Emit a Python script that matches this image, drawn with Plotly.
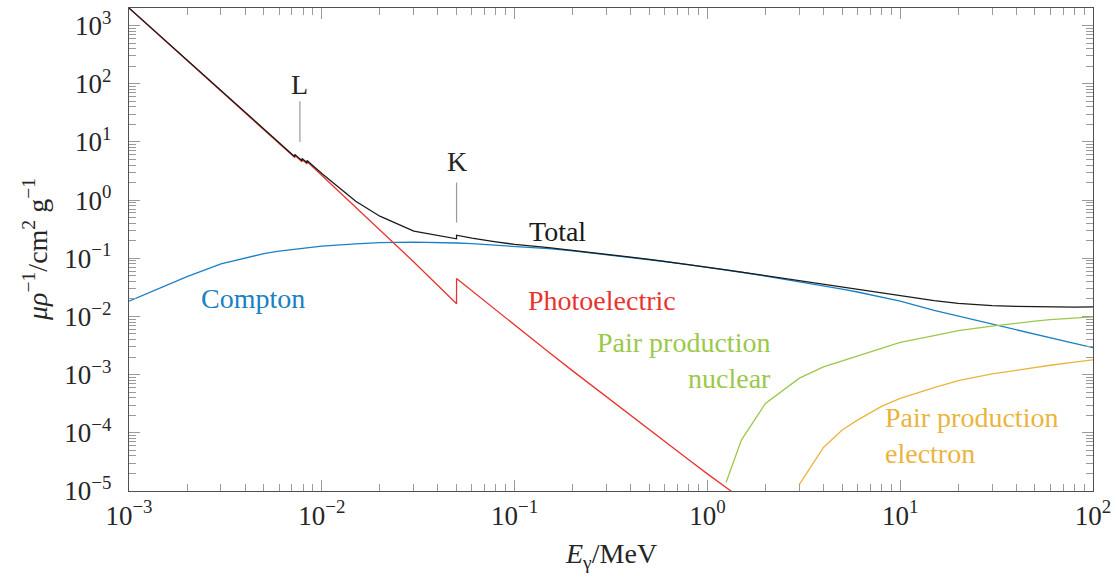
import math
import plotly.graph_objects as go

# Mass attenuation coefficients (cm^2/g) versus photon energy (MeV).
# Absorption edges appear as repeated energies.
total_energy = [0.001, 0.0015, 0.002, 0.003, 0.004, 0.005, 0.006, 0.007,
                0.00724, 0.00724, 0.0079, 0.0079, 0.00838, 0.00838, 0.01,
                0.015, 0.02, 0.03, 0.04, 0.05, 0.05, 0.06, 0.08, 0.1, 0.15,
                0.2, 0.3, 0.4, 0.5, 0.6, 0.8, 1, 1.25, 1.5, 2, 3, 4, 5, 6,
                8, 10, 15, 20, 30, 40, 50, 60, 80, 100]
total_mu = [2000, 597, 252, 75.1, 31.9, 16.5, 9.6, 6.1,
            5.55, 6.1, 4.72, 5.2, 4.38, 4.8, 2.85,
            0.957, 0.528, 0.292, 0.245, 0.216, 0.249, 0.222, 0.192, 0.173, 0.152,
            0.137, 0.117, 0.1045, 0.0955, 0.0884, 0.0778, 0.0702, 0.0633, 0.0579,
            0.0502, 0.0410, 0.0355, 0.0318, 0.0291, 0.0254, 0.0228, 0.0187,
            0.0168, 0.0153, 0.0149, 0.0147, 0.0146, 0.0145, 0.0146]

compton_energy = [0.001, 0.0015, 0.002, 0.003, 0.004, 0.005, 0.006, 0.008,
                  0.01, 0.015, 0.02, 0.03, 0.04, 0.05, 0.06, 0.08, 0.1, 0.15,
                  0.2, 0.3, 0.4, 0.5, 0.6, 0.8, 1, 1.25, 1.5, 2, 3, 4, 5, 6,
                  8, 10, 15, 20, 30, 40, 50, 60, 80, 100]
compton_mu = [0.0183, 0.0322, 0.0485, 0.0800, 0.102, 0.120, 0.133, 0.151,
              0.162, 0.177, 0.185, 0.189, 0.187, 0.183, 0.178, 0.168, 0.160,
              0.146, 0.134, 0.116, 0.104, 0.095, 0.088, 0.0775, 0.0700,
              0.0630, 0.0575, 0.0495, 0.0397, 0.0337, 0.0295, 0.0263, 0.0217,
              0.0183, 0.0127, 0.0101, 0.0073, 0.00585, 0.0049, 0.0043,
              0.00343, 0.0029]

photo_energy = [0.001, 0.0015, 0.002, 0.003, 0.004, 0.005, 0.006, 0.007,
                0.00724, 0.00724, 0.0079, 0.0079, 0.00838, 0.00838, 0.01,
                0.015, 0.02, 0.03, 0.04, 0.05, 0.05, 0.06, 0.08, 0.1, 0.15,
                0.2, 0.3, 0.4, 0.5, 0.6, 0.8, 1, 1.25, 1.5]
photo_mu = [1990, 596, 252, 74.9, 31.7, 16.3, 9.42, 5.94,
            5.37, 5.9, 4.54, 5.0, 4.19, 4.6, 2.66,
            0.759, 0.31, 0.0865, 0.034, 0.0165, 0.045, 0.0276, 0.0128, 0.0070,
            0.00244, 0.00116, 4.11e-4, 1.97e-4, 1.12e-4, 7.1e-5, 3.45e-5,
            1.97e-5, 1.15e-5, 7.4e-6]

pair_nuc_energy = [1.25, 1.5, 2, 3, 4, 5, 6, 8, 10, 15, 20, 30, 40, 50, 60,
                   80, 100]
pair_nuc_mu = [1.4e-5, 7.5e-5, 3.2e-4, 8.7e-4, 1.36e-3, 1.72e-3, 2.1e-3,
               2.77e-3, 3.57e-3, 4.7e-3, 5.7e-3, 6.8e-3, 7.7e-3, 8.3e-3,
               8.8e-3, 9.4e-3, 9.8e-3]

pair_el_energy = [3, 4, 5, 6, 8, 10, 15, 20, 30, 40, 50, 60, 80, 100]
pair_el_mu = [1.3e-5, 5.6e-5, 1.12e-4, 1.65e-4, 2.85e-4, 3.9e-4, 6.0e-4,
              7.9e-4, 1.03e-3, 1.2e-3, 1.34e-3, 1.45e-3, 1.64e-3, 1.8e-3]

x_tick_exp = [-3, -2, -1, 0, 1, 2]
y_tick_exp = [-5, -4, -3, -2, -1, 0, 1, 2, 3]

# edge markers: label, energy, line bottom/top, label height
edge_marks = [("L", 0.0077, 10, 50, 97), ("K", 0.05, 0.41, 2.0, 4.6)]

BLACK = "#1a1a1a"
BLUE = "#1a80c4"
RED = "#e8342e"
GREEN = "#9cc84a"
ORANGE = "#ebb43e"
TICK = "#9a9a9a"
TEXT = "#262626"
FONT = "Liberation Serif, Times New Roman, serif"

W, H = 1117, 578
ML, MR, MT, MB = 129, 24, 8, 87
PW, PH = W - ML - MR, H - MT - MB


def sup_label(e):
    s = str(e).replace("-", "\u2212")
    return f"10<sup>{s}</sup>"


def minor_vals(lo, hi):
    vals = []
    for p in range(lo, hi):
        for k in range(2, 10):
            vals.append(k * 10.0 ** p)
    return vals


def px(xp, yp):
    """pixel position -> paper coordinates"""
    return (xp - ML) / PW, (H - MB - yp) / PH


fig = go.Figure()
line_w = 1.3
fig.add_trace(go.Scatter(x=compton_energy, y=compton_mu, mode="lines",
                         line=dict(color=BLUE, width=line_w)))
fig.add_trace(go.Scatter(x=photo_energy, y=photo_mu, mode="lines",
                         line=dict(color=RED, width=line_w)))
fig.add_trace(go.Scatter(x=pair_nuc_energy, y=pair_nuc_mu, mode="lines",
                         line=dict(color=GREEN, width=line_w)))
fig.add_trace(go.Scatter(x=pair_el_energy, y=pair_el_mu, mode="lines",
                         line=dict(color=ORANGE, width=line_w)))
fig.add_trace(go.Scatter(x=total_energy, y=total_mu, mode="lines",
                         line=dict(color=BLACK, width=line_w)))

axis_common = dict(
    type="log", ticks="inside", ticklen=11, tickwidth=1.2, tickcolor=TICK,
    showline=True, linecolor="#505050", linewidth=1.4, mirror="allticks",
    showgrid=False, zeroline=False,
    tickfont=dict(family=FONT, size=27, color=TEXT),
)

fig.update_xaxes(
    **axis_common, range=[-3, 2],
    tickvals=[10.0 ** e for e in x_tick_exp],
    ticktext=[sup_label(e) for e in x_tick_exp],
    minor=dict(tickvals=minor_vals(-3, 2), ticks="inside", ticklen=7,
               tickwidth=1, tickcolor=TICK, showgrid=False),
)
fig.update_yaxes(
    **axis_common, range=[-5, 3.301],
    tickvals=[10.0 ** e for e in y_tick_exp],
    ticktext=[sup_label(e) for e in y_tick_exp],
    minor=dict(tickvals=minor_vals(-5, 4), ticks="inside", ticklen=7,
               tickwidth=1, tickcolor=TICK, showgrid=False),
    ticklabelstandoff=11,
)

for name, e, y0, y1, ylab in edge_marks:
    fig.add_shape(type="line", xref="x", yref="y", x0=e, x1=e, y0=y0, y1=y1,
                  line=dict(color=TICK, width=1.2))
    fig.add_annotation(x=math.log10(e), y=math.log10(ylab), xref="x", yref="y",
                       text=name, showarrow=False,
                       xanchor="center", yanchor="middle",
                       font=dict(family=FONT, size=28, color=TEXT))

labels = [
    ("Total", 557, 231, "center", BLACK),
    ("Compton", 253, 298, "center", BLUE),
    ("Photoelectric", 602, 300, "center", RED),
    ("Pair production<br>nuclear", 773, 360, "right", GREEN),
    ("Pair production<br>electron", 883, 435, "left", ORANGE),
]
for text, lx, ly, anchor, col in labels:
    xp, yp = px(lx, ly)
    fig.add_annotation(x=xp, y=yp, xref="paper", yref="paper", text=text,
                       showarrow=False, xanchor=anchor, yanchor="middle",
                       align=anchor,
                       font=dict(family=FONT, size=28, color=col))

# axis titles
xp, yp = px(611, 555)
fig.add_annotation(x=xp, y=yp, xref="paper", yref="paper",
                   xanchor="center", yanchor="middle",
                   text="<i>E</i><sub>\u03b3</sub>/MeV", showarrow=False,
                   font=dict(family=FONT, size=28, color=TEXT))
xp, yp = px(35, 250)
fig.add_annotation(x=xp, y=yp, xref="paper", yref="paper", textangle=-90,
                   xanchor="center", yanchor="middle",
                   text="<i>\u03bc\u03c1</i><sup>\u22121</sup>/cm<sup>2</sup> g<sup>\u22121</sup>",
                   showarrow=False,
                   font=dict(family=FONT, size=28, color=TEXT))

fig.update_layout(
    width=W, height=H, showlegend=False,
    margin=dict(l=ML, r=MR, t=MT, b=MB, autoexpand=False),
    plot_bgcolor="white", paper_bgcolor="white",
)

fig.write_html("out.html")
